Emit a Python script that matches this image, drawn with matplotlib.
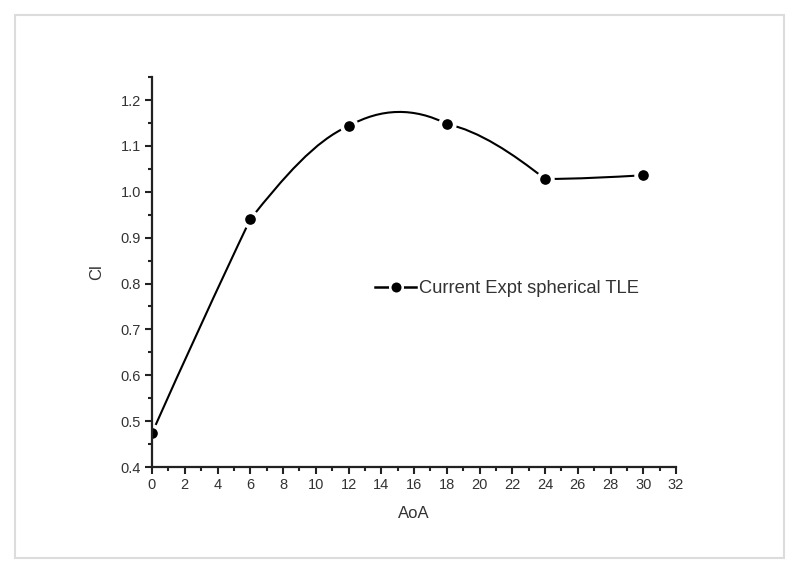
import numpy as np
import matplotlib
matplotlib.use('agg')
import matplotlib.pyplot as plt
from matplotlib.path import Path
from matplotlib.patches import PathPatch, Rectangle
from matplotlib.lines import Line2D
from matplotlib.ticker import MultipleLocator, FormatStrFormatter

matplotlib.rc('font', family=['Liberation Sans', 'DejaVu Sans'], size=11)

# Data
aoa = [0, 6, 12, 18, 24, 30]
cl = [0.474, 0.94, 1.143, 1.148, 1.028, 1.036]
# slope of the drawn curve leaving / arriving at each point
slope_out = [0.080, 0.045, 0.020, -0.008, 0.0]
slope_in = [0.075, 0.015, -0.018, -0.028, 0.002]
series_label = 'Current Expt spherical TLE'
x_label = 'AoA'
y_label = 'Cl'


def spline_path(x, y, m_out, m_in):
    # one cubic bezier per segment, like Origin's spline connect
    verts = [(x[0], y[0])]
    codes = [Path.MOVETO]
    for i in range(len(x) - 1):
        h = x[i + 1] - x[i]
        verts += [(x[i] + h / 3, y[i] + m_out[i] * h / 3),
                  (x[i + 1] - h / 3, y[i + 1] - m_in[i] * h / 3),
                  (x[i + 1], y[i + 1])]
        codes += [Path.CURVE4] * 3
    return Path(verts, codes)


fig = plt.figure(figsize=(8, 5.71), dpi=100)
ax = fig.add_axes([0.19, 0.182, 0.655, 0.683])

# light grey frame round the picture
fig.patches.append(Rectangle((15 / 800, 13 / 571), 769 / 800, 543 / 571,
                             transform=fig.transFigure, fill=False,
                             ec='#dcdcdc', lw=1.5))

ax.add_patch(PathPatch(spline_path(aoa, cl, slope_out, slope_in), fill=False,
                       ec='black', lw=1.5, zorder=2))
ax.plot(aoa, cl, 'o', color='black', ms=10.5, mec='white', mew=2.8, zorder=2.2)

ax.set_xlim(0, 32)
ax.set_ylim(0.4, 1.25)
ax.xaxis.set_major_locator(MultipleLocator(2))
ax.xaxis.set_minor_locator(MultipleLocator(1))
ax.yaxis.set_major_locator(MultipleLocator(0.1))
ax.yaxis.set_minor_locator(MultipleLocator(0.05))
ax.yaxis.set_major_formatter(FormatStrFormatter('%.1f'))

for side in ['top', 'right']:
    ax.spines[side].set_visible(False)
for side in ['left', 'bottom']:
    ax.spines[side].set_linewidth(1.6)
    ax.spines[side].set_color('#222222')

ax.tick_params(which='major', direction='out', length=5, width=1.5,
               labelsize=10.5, colors='#222222', labelcolor='#333333', pad=3)
ax.tick_params(which='minor', direction='out', length=3, width=1.5, colors='#222222')

ax.set_xlabel(x_label, fontsize=12, color='#333333', labelpad=10)
ax.set_ylabel(y_label, fontsize=12, color='#333333', labelpad=12)

handle = Line2D([], [], color='black', lw=1.8, marker='o', ms=9, mec='white', mew=1.8)
ax.legend(handles=[handle], labels=[series_label], loc='center left',
          bbox_to_anchor=(0.395, 0.458), frameon=False, fontsize=13.2,
          handlelength=2.2, handletextpad=0.2, labelcolor='#333333')

fig.savefig('out.png', dpi=100)
